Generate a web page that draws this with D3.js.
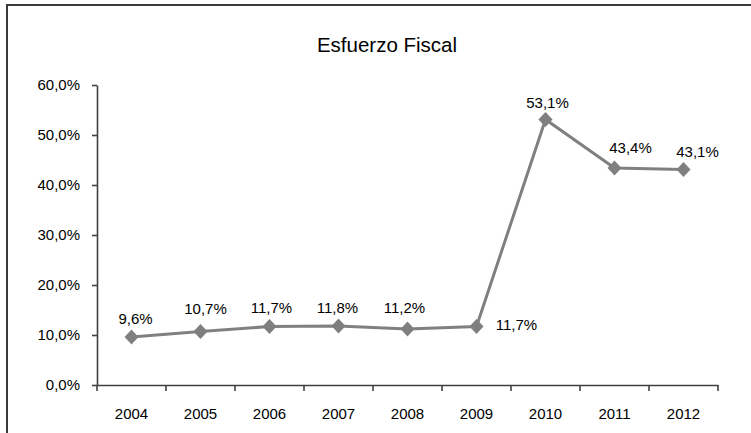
<!DOCTYPE html>
<html>
<head>
<meta charset="utf-8">
<script src="https://cdn.jsdelivr.net/npm/d3@7"></script>
<style>
  html, body { margin: 0; background: #fff; overflow: hidden; }
  svg { display: block; font-family: 'Liberation Sans', Arial, sans-serif; }
</style>
</head>
<body>
<svg width="751" height="433"></svg>
<script>
(function() {
  var years = ['2004', '2005', '2006', '2007', '2008', '2009', '2010', '2011', '2012']
  var values = [9.6, 10.7, 11.7, 11.8, 11.2, 11.7, 53.1, 43.4, 43.1]
  var yTicks = [0, 10, 20, 30, 40, 50, 60]

  // where each value label sits, relative to its marker (as in the original)
  var labelNudge = [
    [4, -13], [5, -18], [2, -14], [-1, -13], [-3, -16],
    [40, 3], [2, -12], [16, -15], [14, -13]
  ]

  var fmt = function(v) { return d3.format('.1f')(v).replace('.', ',') + '%' }

  var svg = d3.select('svg')

  // outer frame (runs off the right and bottom edge)
  svg.append('rect')
     .attr('x', 7).attr('y', 5)
     .attr('width', 820).attr('height', 480)
     .attr('fill', 'none')
     .attr('stroke', '#3a3a3a')
     .attr('stroke-width', 2)

  // title
  svg.append('text')
     .attr('x', 387).attr('y', 52)
     .attr('text-anchor', 'middle')
     .attr('font-size', 20.5)
     .attr('fill', '#000')
     .text('Esfuerzo Fiscal')

  var x = d3.scaleBand().domain(years).range([97, 718])
  var y = d3.scaleLinear().domain([0, 60]).range([385, 85])

  // y axis
  var yAxis = svg.append('g')
     .attr('transform', 'translate(97,0)')
     .call(d3.axisLeft(y).tickValues(yTicks).tickSize(5).tickSizeOuter(0)
       .tickPadding(12).tickFormat(fmt))
  yAxis.selectAll('text').attr('font-size', 15).attr('fill', '#000')
       .attr('font-family', 'Liberation Sans, Arial, sans-serif')

  // x axis with ticks on the category boundaries
  var xAxis = svg.append('g')
     .attr('transform', 'translate(0,385)')
     .call(d3.axisBottom(x).tickSize(0).tickSizeOuter(0).tickPadding(23))
  xAxis.selectAll('text').attr('font-size', 15).attr('fill', '#000')
       .attr('font-family', 'Liberation Sans, Arial, sans-serif')

  var bounds = years.map(function(d) { return x(d) }).concat([x.range()[1]])
  svg.selectAll('line.xtick')
     .data(bounds)
     .enter().append('line')
     .attr('class', 'xtick')
     .attr('x1', function(d) { return d }).attr('x2', function(d) { return d })
     .attr('y1', 385).attr('y2', 391)

  svg.selectAll('.domain, .tick line, line.xtick')
     .attr('stroke', '#404040')
     .attr('stroke-width', 1.6)

  var cx = function(d, i) { return x(years[i]) + x.bandwidth() / 2 }

  // series line
  var line = d3.line()
    .x(function(d, i) { return cx(d, i) })
    .y(function(d) { return y(d) })

  svg.append('path')
     .datum(values)
     .attr('d', line)
     .attr('fill', 'none')
     .attr('stroke', '#808080')
     .attr('stroke-width', 3)

  // diamond markers
  svg.selectAll('path.marker')
     .data(values)
     .enter().append('path')
     .attr('class', 'marker')
     .attr('d', 'M0,-7.5L7,0L0,7.5L-7,0Z')
     .attr('transform', function(d, i) { return 'translate(' + cx(d, i) + ',' + y(d) + ')' })
     .attr('fill', '#7f7f7f')

  // value labels
  svg.selectAll('text.val')
     .data(values)
     .enter().append('text')
     .attr('class', 'val')
     .attr('x', function(d, i) { return cx(d, i) + labelNudge[i][0] })
     .attr('y', function(d, i) { return y(d) + labelNudge[i][1] })
     .attr('text-anchor', 'middle')
     .attr('font-size', 15)
     .attr('fill', '#000')
     .text(fmt)
})();
</script>
</body>
</html>
